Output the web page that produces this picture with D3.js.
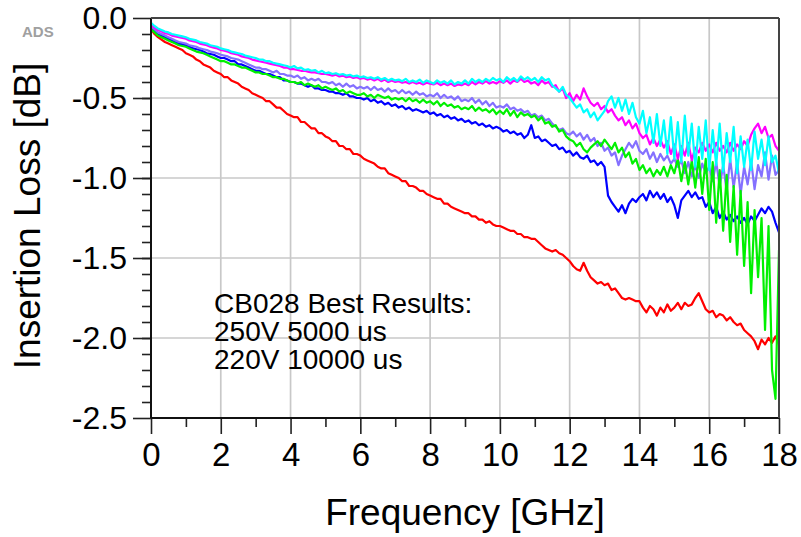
<!DOCTYPE html>
<html>
<head>
<meta charset="utf-8">
<script src="https://cdn.jsdelivr.net/npm/d3@7"></script>
<style>
    body { margin: 0; background: #fff; }
    svg { display: block; font-family: "Liberation Sans", Arial, sans-serif; }
</style>
</head>
<body>
<svg id="chart" width="801" height="537"></svg>
<script>
//samples every 0.1 GHz, 0..18 GHz (181 per trace)
const FREQ_STEP = 0.1;

const xTicks = [0, 2, 4, 6, 8, 10, 12, 14, 16, 18];
const yTicks = [0, -0.5, -1.0, -1.5, -2.0, -2.5];

const noteLines = ["CB028 Best Results:", "250V 5000 us", "220V 10000 us"];

//insertion loss in dB
const redTrace = [-0.07,-0.10,-0.12,-0.135,-0.15,-0.16,-0.17,-0.18,-0.19,-0.20,-0.22,
    -0.23,-0.24,-0.26,-0.27,-0.29,-0.30,-0.31,-0.33,-0.34,-0.35,
    -0.37,-0.37,-0.39,-0.40,-0.41,-0.43,-0.44,-0.45,-0.47,-0.48,
    -0.49,-0.50,-0.52,-0.52,-0.54,-0.56,-0.56,-0.58,-0.60,-0.61,
    -0.62,-0.62,-0.65,-0.65,-0.67,-0.69,-0.69,-0.72,-0.72,-0.74,
    -0.75,-0.77,-0.77,-0.80,-0.80,-0.82,-0.82,-0.85,-0.85,-0.86,
    -0.88,-0.89,-0.90,-0.91,-0.93,-0.94,-0.94,-0.97,-0.98,-0.99,
    -1.00,-1.02,-1.02,-1.05,-1.05,-1.06,-1.08,-1.08,-1.10,-1.11,
    -1.12,-1.13,-1.13,-1.16,-1.16,-1.18,-1.19,-1.20,-1.21,-1.22,
    -1.22,-1.24,-1.24,-1.26,-1.26,-1.28,-1.27,-1.29,-1.30,-1.30,
    -1.31,-1.32,-1.33,-1.33,-1.35,-1.35,-1.37,-1.37,-1.38,-1.38,
    -1.40,-1.42,-1.44,-1.45,-1.46,-1.45,-1.47,-1.48,-1.50,-1.52,
    -1.55,-1.57,-1.58,-1.53,-1.58,-1.62,-1.64,-1.66,-1.65,-1.67,
    -1.66,-1.70,-1.69,-1.72,-1.75,-1.76,-1.75,-1.76,-1.77,-1.77,
    -1.81,-1.84,-1.80,-1.82,-1.86,-1.81,-1.84,-1.79,-1.83,-1.81,
    -1.78,-1.82,-1.78,-1.80,-1.79,-1.75,-1.72,-1.77,-1.82,-1.84,
    -1.83,-1.87,-1.85,-1.86,-1.89,-1.87,-1.90,-1.92,-1.91,-1.95,
    -1.97,-1.99,-2.02,-2.07,-2.01,-2.04,-2.00,-2.03,-1.99,-2.04];

const blueTrace = [-0.06,-0.08,-0.10,-0.11,-0.12,-0.13,-0.14,-0.15,-0.16,-0.165,-0.17,
    -0.18,-0.19,-0.195,-0.20,-0.21,-0.22,-0.225,-0.23,-0.24,-0.25,
    -0.25,-0.26,-0.27,-0.27,-0.29,-0.29,-0.30,-0.31,-0.32,-0.33,
    -0.33,-0.34,-0.35,-0.35,-0.36,-0.37,-0.37,-0.39,-0.39,-0.40,
    -0.40,-0.41,-0.41,-0.42,-0.43,-0.42,-0.44,-0.44,-0.45,-0.45,
    -0.46,-0.46,-0.47,-0.47,-0.48,-0.47,-0.49,-0.49,-0.50,-0.50,
    -0.51,-0.50,-0.52,-0.51,-0.53,-0.52,-0.54,-0.53,-0.55,-0.54,
    -0.56,-0.55,-0.57,-0.56,-0.58,-0.57,-0.58,-0.59,-0.58,-0.60,
    -0.59,-0.61,-0.60,-0.62,-0.61,-0.63,-0.62,-0.64,-0.63,-0.65,
    -0.64,-0.66,-0.65,-0.67,-0.66,-0.68,-0.67,-0.69,-0.68,-0.69,
    -0.71,-0.70,-0.72,-0.71,-0.73,-0.72,-0.75,-0.73,-0.67,-0.75,
    -0.74,-0.77,-0.76,-0.78,-0.80,-0.79,-0.82,-0.81,-0.84,-0.83,
    -0.86,-0.84,-0.87,-0.88,-0.86,-0.90,-0.89,-0.92,-0.90,-0.93,
    -1.11,-1.15,-1.18,-1.21,-1.17,-1.22,-1.16,-1.13,-1.15,-1.12,
    -1.10,-1.14,-1.08,-1.12,-1.09,-1.13,-1.10,-1.15,-1.12,-1.17,
    -1.25,-1.14,-1.11,-1.08,-1.12,-1.09,-1.13,-1.12,-1.18,-1.15,
    -1.22,-1.18,-1.25,-1.21,-1.26,-1.23,-1.27,-1.24,-1.28,-1.25,
    -1.29,-1.24,-1.27,-1.23,-1.19,-1.22,-1.18,-1.21,-1.28,-1.34];

const greenTrace = [-0.07,-0.09,-0.11,-0.12,-0.13,-0.14,-0.15,-0.16,-0.17,-0.175,-0.18,
    -0.19,-0.20,-0.21,-0.215,-0.22,-0.23,-0.24,-0.25,-0.26,-0.27,
    -0.27,-0.28,-0.29,-0.29,-0.30,-0.31,-0.31,-0.32,-0.33,-0.34,
    -0.34,-0.35,-0.35,-0.36,-0.37,-0.37,-0.38,-0.38,-0.39,-0.40,
    -0.40,-0.41,-0.40,-0.42,-0.41,-0.42,-0.43,-0.42,-0.44,-0.43,
    -0.44,-0.45,-0.44,-0.46,-0.45,-0.47,-0.46,-0.47,-0.48,-0.48,
    -0.47,-0.49,-0.48,-0.50,-0.48,-0.49,-0.50,-0.49,-0.51,-0.50,
    -0.51,-0.50,-0.52,-0.50,-0.52,-0.51,-0.53,-0.51,-0.53,-0.52,
    -0.54,-0.52,-0.55,-0.53,-0.55,-0.54,-0.56,-0.55,-0.57,-0.56,
    -0.57,-0.55,-0.58,-0.56,-0.58,-0.57,-0.59,-0.57,-0.60,-0.58,
    -0.60,-0.57,-0.61,-0.58,-0.62,-0.59,-0.61,-0.60,-0.62,-0.61,
    -0.64,-0.62,-0.66,-0.65,-0.68,-0.67,-0.71,-0.70,-0.74,-0.76,
    -0.77,-0.80,-0.78,-0.82,-0.84,-0.81,-0.79,-0.77,-0.80,-0.76,
    -0.79,-0.82,-0.78,-0.84,-0.81,-0.87,-0.84,-0.91,-0.88,-0.95,
    -0.92,-0.97,-0.94,-0.99,-0.95,-0.98,-0.93,-0.99,-0.92,-0.97,
    -0.88,-1.02,-0.90,-1.04,-0.89,-1.06,-0.87,-1.10,-0.88,-1.20,
    -0.90,-1.28,-0.95,-1.33,-0.98,-1.40,-1.05,-1.48,-1.08,-1.55,
    -1.15,-1.72,-1.20,-1.62,-1.25,-1.95,-1.30,-2.20,-2.38,-1.45];

const purpleTrace = [-0.05,-0.07,-0.09,-0.10,-0.11,-0.12,-0.13,-0.14,-0.15,-0.155,-0.16,
    -0.17,-0.175,-0.18,-0.19,-0.195,-0.20,-0.21,-0.215,-0.22,-0.23,
    -0.235,-0.24,-0.25,-0.255,-0.26,-0.27,-0.28,-0.29,-0.30,-0.31,
    -0.31,-0.32,-0.32,-0.33,-0.34,-0.33,-0.35,-0.35,-0.36,-0.36,
    -0.37,-0.36,-0.38,-0.37,-0.39,-0.38,-0.39,-0.38,-0.40,-0.40,
    -0.41,-0.40,-0.42,-0.41,-0.43,-0.41,-0.43,-0.42,-0.44,-0.43,
    -0.44,-0.43,-0.45,-0.43,-0.45,-0.44,-0.46,-0.44,-0.46,-0.45,
    -0.47,-0.45,-0.47,-0.46,-0.48,-0.46,-0.48,-0.47,-0.49,-0.48,
    -0.49,-0.47,-0.50,-0.48,-0.50,-0.49,-0.51,-0.49,-0.52,-0.51,
    -0.52,-0.50,-0.53,-0.51,-0.54,-0.52,-0.55,-0.53,-0.56,-0.55,
    -0.56,-0.54,-0.57,-0.56,-0.58,-0.57,-0.59,-0.58,-0.61,-0.60,
    -0.62,-0.61,-0.64,-0.63,-0.66,-0.68,-0.70,-0.69,-0.72,-0.73,
    -0.71,-0.74,-0.72,-0.76,-0.73,-0.77,-0.75,-0.80,-0.78,-0.83,
    -0.81,-0.86,-0.84,-0.92,-0.86,-0.82,-0.78,-0.81,-0.77,-0.83,
    -0.85,-0.82,-0.88,-0.84,-0.90,-0.85,-0.89,-0.86,-0.91,-0.88,
    -0.93,-0.89,-0.97,-0.90,-0.99,-0.92,-1.00,-0.91,-0.97,-0.93,
    -1.02,-0.90,-1.05,-0.92,-1.08,-0.88,-1.06,-0.90,-1.10,-0.93,
    -1.04,-0.89,-1.07,-0.92,-0.99,-0.84,-1.01,-0.86,-0.98,-0.95];

const magentaTrace = [-0.04,-0.06,-0.075,-0.085,-0.095,-0.10,-0.11,-0.115,-0.12,-0.125,-0.13,
    -0.14,-0.145,-0.15,-0.16,-0.165,-0.17,-0.18,-0.185,-0.19,-0.20,
    -0.205,-0.21,-0.22,-0.225,-0.23,-0.24,-0.245,-0.25,-0.26,-0.265,
    -0.27,-0.275,-0.28,-0.285,-0.29,-0.295,-0.30,-0.31,-0.31,-0.32,
    -0.32,-0.325,-0.33,-0.33,-0.335,-0.34,-0.34,-0.345,-0.35,-0.35,
    -0.355,-0.36,-0.355,-0.365,-0.36,-0.37,-0.365,-0.375,-0.37,-0.38,
    -0.375,-0.385,-0.38,-0.39,-0.38,-0.395,-0.385,-0.40,-0.39,-0.40,
    -0.395,-0.405,-0.40,-0.41,-0.40,-0.41,-0.405,-0.415,-0.405,-0.41,
    -0.415,-0.405,-0.42,-0.41,-0.42,-0.41,-0.425,-0.415,-0.42,-0.41,
    -0.42,-0.40,-0.415,-0.40,-0.41,-0.395,-0.41,-0.40,-0.41,-0.395,
    -0.405,-0.39,-0.41,-0.39,-0.40,-0.38,-0.40,-0.39,-0.41,-0.40,
    -0.42,-0.39,-0.41,-0.40,-0.43,-0.42,-0.46,-0.44,-0.50,-0.47,
    -0.52,-0.48,-0.51,-0.44,-0.49,-0.53,-0.55,-0.53,-0.57,-0.55,
    -0.59,-0.57,-0.61,-0.64,-0.62,-0.67,-0.64,-0.69,-0.66,-0.72,
    -0.75,-0.73,-0.79,-0.75,-0.80,-0.76,-0.81,-0.77,-0.85,-0.79,
    -0.88,-0.80,-0.86,-0.78,-0.89,-0.81,-0.84,-0.78,-0.83,-0.79,
    -0.84,-0.78,-0.83,-0.80,-0.84,-0.78,-0.83,-0.79,-0.82,-0.77,
    -0.80,-0.73,-0.69,-0.66,-0.72,-0.68,-0.75,-0.73,-0.80,-0.83];

const cyanTrace = [-0.03,-0.05,-0.065,-0.075,-0.085,-0.09,-0.10,-0.105,-0.11,-0.115,-0.12,
    -0.13,-0.135,-0.14,-0.15,-0.155,-0.16,-0.17,-0.175,-0.18,-0.19,
    -0.195,-0.20,-0.21,-0.215,-0.22,-0.225,-0.235,-0.24,-0.245,-0.25,
    -0.26,-0.26,-0.27,-0.27,-0.28,-0.285,-0.29,-0.295,-0.30,-0.31,
    -0.30,-0.315,-0.31,-0.325,-0.32,-0.33,-0.325,-0.34,-0.33,-0.345,
    -0.34,-0.35,-0.345,-0.355,-0.35,-0.36,-0.355,-0.365,-0.36,-0.37,
    -0.365,-0.375,-0.37,-0.38,-0.37,-0.385,-0.375,-0.39,-0.38,-0.39,
    -0.385,-0.395,-0.38,-0.40,-0.39,-0.40,-0.385,-0.405,-0.39,-0.40,
    -0.41,-0.39,-0.405,-0.395,-0.41,-0.39,-0.415,-0.40,-0.41,-0.39,
    -0.41,-0.38,-0.40,-0.385,-0.40,-0.38,-0.395,-0.375,-0.39,-0.38,
    -0.40,-0.37,-0.39,-0.375,-0.395,-0.365,-0.385,-0.37,-0.39,-0.375,
    -0.40,-0.37,-0.39,-0.38,-0.42,-0.44,-0.46,-0.43,-0.48,-0.50,
    -0.53,-0.56,-0.54,-0.59,-0.57,-0.62,-0.59,-0.64,-0.61,-0.58,
    -0.52,-0.49,-0.56,-0.50,-0.58,-0.51,-0.60,-0.53,-0.62,-0.66,
    -0.58,-0.72,-0.62,-0.78,-0.60,-0.80,-0.64,-0.85,-0.62,-0.88,
    -0.65,-0.90,-0.61,-0.86,-0.66,-0.93,-0.68,-0.88,-0.64,-0.95,
    -0.70,-0.92,-0.66,-0.96,-0.72,-0.90,-0.68,-0.97,-0.74,-0.93,
    -0.76,-0.95,-0.71,-0.88,-0.76,-0.92,-0.74,-0.90,-0.86,-0.97];

//draw order: first = bottom
const traces = [redTrace, blueTrace, purpleTrace, greenTrace, magentaTrace, cyanTrace];
const traceColors = ["#ff0000", "#0000ff", "#8470ff", "#00f000", "#ff00ff", "#00ffff"];

//plot box
const plotLeft = 151, plotRight = 779, plotTop = 18, plotBottom = 418;

const svg = d3.select("#chart");

const x = d3.scaleLinear().domain([0, 18]).range([plotLeft, plotRight]);
const y = d3.scaleLinear().domain([-2.5, 0]).range([plotBottom, plotTop]);

//grid
svg.append("g")
    .selectAll("line")
    .data(xTicks.slice(1, -1))
    .join("line")
    .attr("x1", d => x(d)).attr("x2", d => x(d))
    .attr("y1", plotTop).attr("y2", plotBottom)
    .attr("stroke", "#c8c8c8")
    .attr("stroke-width", 1.7);

svg.append("g")
    .selectAll("line")
    .data(yTicks.slice(1, -1))
    .join("line")
    .attr("x1", plotLeft).attr("x2", plotRight)
    .attr("y1", d => y(d)).attr("y2", d => y(d))
    .attr("stroke", "#c8c8c8")
    .attr("stroke-width", 1.7);

//traces, clipped to the box
svg.append("clipPath").attr("id", "plot-clip")
    .append("rect")
    .attr("x", plotLeft).attr("y", plotTop)
    .attr("width", plotRight - plotLeft).attr("height", plotBottom - plotTop);

const line = d3.line()
    .x((d, i) => x(i * FREQ_STEP))
    .y(d => y(d));

svg.append("g")
    .attr("clip-path", "url(#plot-clip)")
    .selectAll("path")
    .data(traces)
    .join("path")
    .attr("d", d => line(d))
    .attr("fill", "none")
    .attr("stroke", (d, i) => traceColors[i])
    .attr("stroke-width", 2.2)
    .attr("stroke-linejoin", "round");

//minor ticks
svg.append("g")
    .attr("transform", `translate(${plotLeft},0)`)
    .call(d3.axisLeft(y)
        .tickValues(d3.range(-24, 0).map(i => i / 10))
        .tickSize(9)
        .tickFormat(""))
    .call(g => g.select(".domain").remove())
    .selectAll("line").attr("stroke", "#222").attr("stroke-width", 1.6);

svg.append("g")
    .attr("transform", `translate(0,${plotBottom})`)
    .call(d3.axisBottom(x)
        .tickValues(d3.range(1, 18, 2))
        .tickSize(9)
        .tickFormat(""))
    .call(g => g.select(".domain").remove())
    .selectAll("line").attr("stroke", "#222").attr("stroke-width", 1.6);

//major ticks + labels
const yAxis = svg.append("g")
    .attr("transform", `translate(${plotLeft},0)`)
    .call(d3.axisLeft(y)
        .tickValues(yTicks)
        .tickSize(18)
        .tickPadding(6)
        .tickFormat(d => d.toFixed(1)));
yAxis.select(".domain").remove();
yAxis.selectAll("line").attr("stroke", "#222").attr("stroke-width", 1.6);
yAxis.selectAll("text")
    .attr("fill", "#000")
    .style("font-size", "32px")
    .style("font-family", "'Liberation Sans', Arial, sans-serif");

const xAxis = svg.append("g")
    .attr("transform", `translate(0,${plotBottom})`)
    .call(d3.axisBottom(x)
        .tickValues(xTicks)
        .tickSize(16)
        .tickPadding(9)
        .tickFormat(d => d));
xAxis.select(".domain").remove();
xAxis.selectAll("line").attr("stroke", "#222").attr("stroke-width", 1.6);
xAxis.selectAll("text")
    .attr("fill", "#000")
    .style("font-size", "33px")
    .style("font-family", "'Liberation Sans', Arial, sans-serif");

//frame: axes black, top and right border
svg.append("line").attr("x1", plotLeft).attr("x2", plotLeft).attr("y1", plotTop).attr("y2", plotBottom)
    .attr("stroke", "#111").attr("stroke-width", 2);
svg.append("line").attr("x1", plotLeft).attr("x2", plotRight).attr("y1", plotBottom).attr("y2", plotBottom)
    .attr("stroke", "#111").attr("stroke-width", 2);
svg.append("line").attr("x1", plotLeft).attr("x2", plotRight).attr("y1", plotTop).attr("y2", plotTop)
    .attr("stroke", "#444").attr("stroke-width", 2);
svg.append("line").attr("x1", plotRight).attr("x2", plotRight).attr("y1", plotTop).attr("y2", plotBottom)
    .attr("stroke", "#444").attr("stroke-width", 2);

//axis titles
svg.append("text")
    .attr("x", (plotLeft + plotRight) / 2)
    .attr("y", 525)
    .attr("text-anchor", "middle")
    .style("font-size", "37px")
    .text("Frequency [GHz]");

svg.append("text")
    .attr("transform", "translate(40,216) rotate(-90)")
    .attr("text-anchor", "middle")
    .style("font-size", "37px")
    .text("Insertion Loss [dB]");

//note inside the plot
svg.append("g")
    .selectAll("text")
    .data(noteLines)
    .join("text")
    .attr("x", 214)
    .attr("y", (d, i) => 313 + i * 28)
    .style("font-size", "28px")
    .text(d => d);

//ADS watermark
svg.append("text")
    .attr("x", 22).attr("y", 37)
    .style("font-size", "15px")
    .style("font-weight", "bold")
    .attr("fill", "#a0a0a0")
    .text("ADS");
</script>
</body>
</html>
